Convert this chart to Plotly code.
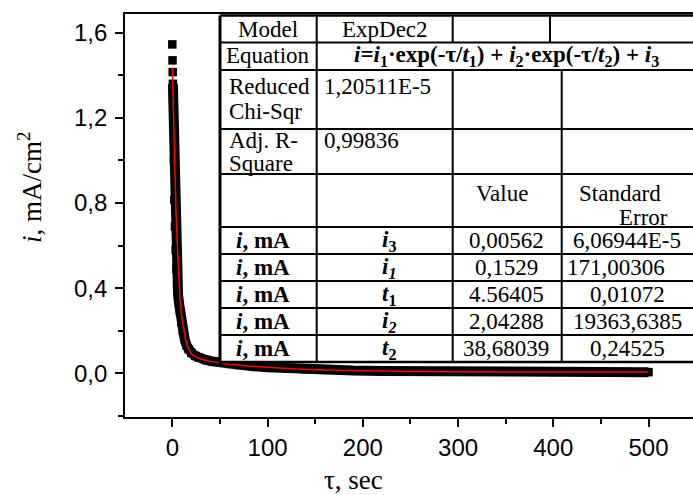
import plotly.graph_objects as go

# ---- measured current transient (τ in s, i in mA/cm²) ----
tau_meas = [0.0, 0.2, 0.4, 0.6, 0.9, 1.3, 1.7, 2.2, 2.8, 3.5, 4.3, 5.1, 6.0, 7.0, 8.0,
            9.5, 11, 13, 15, 17, 20, 24, 28, 35, 42, 50, 60, 70, 85, 100, 120, 140,
            160, 190, 220, 250, 300, 350, 400, 450, 500]
i_meas = [1.545, 1.47, 1.415, 1.36, 1.29, 1.16, 1.00, 0.815, 0.69, 0.58, 0.49, 0.42,
          0.37, 0.33, 0.29, 0.24, 0.20, 0.16, 0.13, 0.113, 0.096, 0.082, 0.073, 0.063,
          0.056, 0.050, 0.044, 0.039, 0.033, 0.028, 0.023, 0.019, 0.016, 0.013, 0.011,
          0.009, 0.008, 0.007, 0.0065, 0.006, 0.0055]
n_isolated = 4  # first samples stand apart; the rest merge into a band

# ---- ExpDec2 fit curve ----
tau_fit = [0, 1, 2, 3, 4, 5, 6, 7, 8, 10, 12, 14, 16, 18, 20, 25, 30, 40, 50, 60, 80,
           100, 130, 160, 200, 250, 300, 350, 400, 450, 500]
i_fit = [1.435, 1.22, 1.03, 0.87, 0.74, 0.63, 0.52, 0.42, 0.35, 0.26, 0.20, 0.155,
         0.125, 0.105, 0.092, 0.076, 0.067, 0.056, 0.047, 0.041, 0.034, 0.028, 0.020,
         0.015, 0.011, 0.009, 0.007, 0.006, 0.0058, 0.0057, 0.0056]

# ---- axis ticks ----
x_ticks = [0, 100, 200, 300, 400, 500]
y_ticks = [0.0, 0.4, 0.8, 1.2, 1.6]
y_tick_text = ["0,0", "0,4", "0,8", "1,2", "1,6"]

# ---- fit summary table text ----
model_name = "ExpDec2"
equation = ("<b><i>i</i>=<i>i</i><sub>1</sub>·exp(-τ/<i>t</i><sub>1</sub>) + "
            "<i>i</i><sub>2</sub>·exp(-τ/<i>t</i><sub>2</sub>) + <i>i</i><sub>3</sub></b>")
chi_sqr = "1,20511E-5"
adj_r2 = "0,99836"
param_units = ["<b><i>i</i>, mA</b>"] * 5
param_names = ["<b><i>i</i><sub>3</sub></b>", "<b><i>i</i><sub><i>1</i></sub></b>",
               "<b><i>t</i><sub>1</sub></b>", "<b><i>i</i><sub><i>2</i></sub></b>",
               "<b><i>t</i><sub>2</sub></b>"]
param_values = ["0,00562", "0,1529", "4.56405", "2,04288", "38,68039"]
param_errors = ["6,06944E-5", "171,00306", "0,01072", "19363,6385", "0,24525"]

W, H = 693, 495
L, R, T, B = 125, 693, 14, 417


def px(x):
    return (x - L) / (R - L)


def py(y):
    return (B - y) / (B - T)


fig = go.Figure()

fig.add_trace(go.Scatter(
    x=tau_meas[n_isolated - 1:], y=i_meas[n_isolated - 1:], mode="lines",
    line=dict(color="black", width=10), hoverinfo="skip", showlegend=False))
fig.add_trace(go.Scatter(
    x=tau_meas, y=i_meas, mode="markers",
    marker=dict(symbol="square", size=8.5, color="black", line=dict(width=0)),
    showlegend=False))
fig.add_trace(go.Scatter(
    x=tau_fit, y=i_fit, mode="lines",
    line=dict(color="#ff0000", width=1.5), showlegend=False))

serif = "Liberation Serif, Times New Roman, serif"
sans = "Liberation Sans, Arial, sans-serif"

# ---- table drawn on top of the data ----
shapes = []
row_y = [15.5, 42.5, 70, 129, 174, 227, 254, 281, 308, 335, 362]
t_left, t_right = 220, 697
c1, c2, c3a, c3 = 316.7, 452.7, 550, 561.7

shapes.append(dict(type="rect", xref="paper", yref="paper",
                   x0=px(t_left), x1=px(t_right), y0=py(row_y[-1]), y1=py(row_y[0]),
                   fillcolor="white", line=dict(width=0), layer="above"))


def seg(x0, y0, x1, y1, w=2):
    shapes.append(dict(type="line", xref="paper", yref="paper",
                       x0=px(x0), x1=px(x1), y0=py(y0), y1=py(y1),
                       line=dict(color="black", width=w), layer="above"))


for k, yy in enumerate(row_y):
    seg(t_left, yy, t_right, yy, 2.5 if k in (0, len(row_y) - 1) else 2)
seg(t_left, row_y[0], t_left, row_y[-1] + 2, 3)
seg(c1, row_y[0], c1, row_y[-1], 2)
seg(c2, row_y[0], c2, row_y[1], 2)
seg(c3a, row_y[0], c3a, row_y[1], 2)
seg(c2, row_y[2], c2, row_y[-1], 2)
seg(c3, row_y[2], c3, row_y[-1], 2)

annotations = []
FS = 23


def txt(x, y, s, anchor="center", size=FS, font=serif):
    annotations.append(dict(x=px(x), y=py(y), xref="paper", yref="paper", text=s,
                            showarrow=False, xanchor=anchor, yanchor="middle",
                            font=dict(family=font, size=size, color="black")))


col1_c = (t_left + c1) / 2
txt(col1_c, 29, "Model")
txt((c1 + c2) / 2, 29, model_name)
txt(col1_c, 56, "Equation")
txt(506, 56, equation)
txt(227, 86, "Reduced", "left")
txt(227, 112, "Chi-Sqr", "left")
txt(322, 86, chi_sqr, "left")
txt(227, 140, "Adj. R-", "left")
txt(227, 163, "Square", "left")
txt(322, 140, adj_r2, "left")
txt(502, 193, "Value")
txt(620, 193, "Standard")
txt(643, 217, "Error")
for k in range(len(param_values)):
    yc = (row_y[5 + k] + row_y[6 + k]) / 2
    txt(263, yc, param_units[k])
    txt(389, yc, param_names[k])
    txt(506, yc, param_values[k])
    txt(616 if k == 1 else 627, yc, param_errors[k])

# y tick labels, placed on the y scale with a fixed gap from the axis
for v, s in zip(y_ticks, y_tick_text):
    annotations.append(dict(x=px(109), y=v, xref="paper", yref="y", text=s,
                            showarrow=False, xanchor="right", yanchor="middle",
                            font=dict(family=sans, size=24, color="black")))

# axis titles
txt(353, 480, "τ, sec", size=27)
annotations.append(dict(x=px(30), y=py(188), xref="paper", yref="paper",
                        text="<i>i</i>, mA/cm<sup>2</sup>", textangle=-90,
                        showarrow=False, xanchor="center", yanchor="middle",
                        font=dict(family=serif, size=27, color="black")))

fig.update_layout(
    width=W, height=H,
    margin=dict(l=L, r=W - R, t=T, b=H - B, pad=0),
    paper_bgcolor="white", plot_bgcolor="white",
    separators=", ",
    shapes=shapes, annotations=annotations,
    showlegend=False,
)
fig.update_xaxes(
    range=[-49.7, 546.7], tickvals=x_ticks, ticks="outside", ticklen=8, tickwidth=1.5,
    tickcolor="black", showline=True, linecolor="black", linewidth=1.5, mirror=True,
    showgrid=False, zeroline=False,
    tickfont=dict(family=sans, size=24, color="black"),
    minor=dict(dtick=50, tick0=0, ticks="outside", ticklen=5, tickwidth=1.5, tickcolor="black",
               showgrid=False),
)
fig.update_yaxes(
    range=[-0.2053, 1.6878], tickvals=y_ticks, showticklabels=False, ticks="outside",
    ticklen=8, tickwidth=1.5, tickcolor="black", showline=True, linecolor="black",
    linewidth=1.5, mirror=False, showgrid=False, zeroline=False,
    minor=dict(dtick=0.2, tick0=0, ticks="outside", ticklen=5, tickwidth=1.5, tickcolor="black",
               showgrid=False),
)

fig.write_html("out.html")
